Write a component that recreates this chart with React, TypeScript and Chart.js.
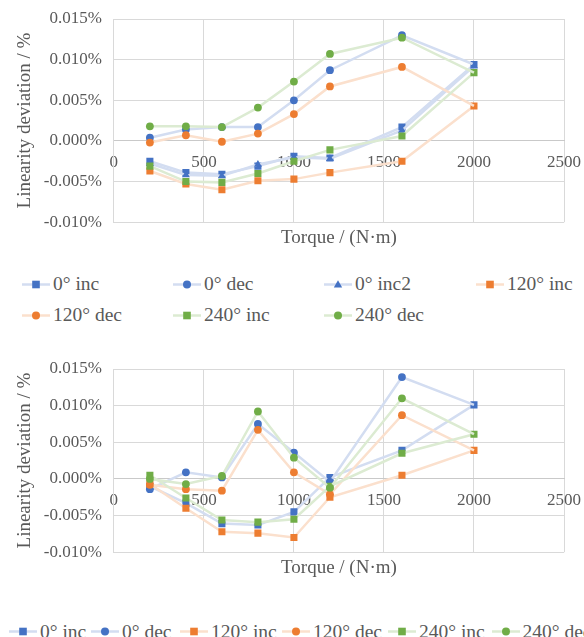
import React, { useEffect, useRef } from "react";
import { Chart, registerables } from "chart.js";

Chart.register(...registerables);

// ---------- data ----------
const torque = [200, 400, 600, 800, 1000, 1200, 1600, 2000];

// top chart (values in %)
const top0Inc = [-0.0025, -0.0039, -0.0041, -0.0031, -0.0019, -0.0021, 0.0017, 0.0094];
const top0Dec = [0.0004, 0.0014, 0.0017, 0.0017, 0.005, 0.0087, 0.013, 0.0094];
const top0Inc2 = [-0.0028, -0.0042, -0.0043, -0.0029, -0.002, -0.0022, 0.0013, 0.0092];
const top120Inc = [-0.0037, -0.0053, -0.006, -0.0049, -0.0047, -0.0039, -0.0025, 0.0043];
const top120Dec = [-0.0002, 0.0007, -0.0001, 0.0009, 0.0033, 0.0067, 0.0091, 0.0043];
const top240Inc = [-0.0031, -0.005, -0.0051, -0.004, -0.0025, -0.0011, 0.0006, 0.0084];
const top240Dec = [0.0018, 0.0018, 0.0017, 0.0041, 0.0073, 0.0107, 0.0127, 0.0084];

// bottom chart (values in %)
const bot0Inc = [-0.001, -0.0033, -0.0061, -0.0063, -0.0045, 0.0002, 0.0039, 0.0101];
const bot0Dec = [-0.0014, 0.0009, 0.0002, 0.0075, 0.0036, -0.0004, 0.0139, 0.0101];
const bot120Inc = [-0.0007, -0.004, -0.0072, -0.0074, -0.008, -0.0025, 0.0005, 0.0039];
const bot120Dec = [-0.0008, -0.0014, -0.0016, 0.0067, 0.0009, -0.0021, 0.0087, 0.0039];
const bot240Inc = [0.0005, -0.0026, -0.0056, -0.0059, -0.0055, -0.001, 0.0035, 0.0061];
const bot240Dec = [0.0, -0.0007, 0.0004, 0.0092, 0.0029, -0.0012, 0.011, 0.0061];

const xMin = 0;
const xMax = 2500;
const xStep = 500;
const yMin = -0.01;
const yMax = 0.015;
const yStep = 0.005;

const xTitle = "Torque / (N·m)";
const yTitle = "Linearity deviation / %";

// ---------- styles ----------
const FONT = "'Liberation Serif', 'Times New Roman', serif";
const TEXT = "#595959";
const GRID = "#d9d9d9";

Chart.defaults.font.family = FONT;
Chart.defaults.color = TEXT;

const BLUE = "#4472C4";
const ORANGE = "#ED7D31";
const GREEN = "#70AD47";
const BLUE_L = "#d3ddf1";
const ORANGE_L = "#fbe0cd";
const GREEN_L = "#dcebd2";

type PStyle = "rect" | "circle" | "triangle";
type Series = {
  label: string;
  data: number[];
  color: string;
  light: string;
  style: PStyle;
  dec: boolean;
};

const topSeries: Series[] = [
  { label: "0° inc", data: top0Inc, color: BLUE, light: BLUE_L, style: "rect", dec: false },
  { label: "0° dec", data: top0Dec, color: BLUE, light: BLUE_L, style: "circle", dec: true },
  { label: "0° inc2", data: top0Inc2, color: BLUE, light: BLUE_L, style: "triangle", dec: false },
  { label: "120° inc", data: top120Inc, color: ORANGE, light: ORANGE_L, style: "rect", dec: false },
  { label: "120° dec", data: top120Dec, color: ORANGE, light: ORANGE_L, style: "circle", dec: true },
  { label: "240° inc", data: top240Inc, color: GREEN, light: GREEN_L, style: "rect", dec: false },
  { label: "240° dec", data: top240Dec, color: GREEN, light: GREEN_L, style: "circle", dec: true },
];

const botSeries: Series[] = [
  { label: "0° inc", data: bot0Inc, color: BLUE, light: BLUE_L, style: "rect", dec: false },
  { label: "0° dec", data: bot0Dec, color: BLUE, light: BLUE_L, style: "circle", dec: true },
  { label: "120° inc", data: bot120Inc, color: ORANGE, light: ORANGE_L, style: "rect", dec: false },
  { label: "120° dec", data: bot120Dec, color: ORANGE, light: ORANGE_L, style: "circle", dec: true },
  { label: "240° inc", data: bot240Inc, color: GREEN, light: GREEN_L, style: "rect", dec: false },
  { label: "240° dec", data: bot240Dec, color: GREEN, light: GREEN_L, style: "circle", dec: true },
];

// legend layout (positions of items, not data)
const topLegendCols = [22, 173, 324, 476];
const topLegendRows = [284, 315];
const botLegendCols = [9, 91, 180, 282, 388, 491.5];
const botLegendRow = 631.5;

function radiusFor(style: PStyle) {
  if (style === "rect") return 5;
  if (style === "triangle") return 4.6;
  return 3.9;
}

function buildDatasets(series: Series[]) {
  return series.map((s, idx) => {
    const r = radiusFor(s.style);
    return {
      label: s.label,
      data: torque.map((x, i) => ({ x, y: s.data[i] })),
      borderColor: s.light,
      backgroundColor: s.color,
      pointBackgroundColor: s.color,
      pointBorderColor: s.color,
      pointBorderWidth: 0,
      pointStyle: s.style,
      pointRadius: s.dec ? s.data.map((_, i) => (i === s.data.length - 1 ? 0 : r)) : r,
      borderWidth: 2.5,
      tension: 0,
      fill: false,
      order: -idx,
      xAxisID: "x",
      yAxisID: "y",
    };
  });
}

function buildOptions(): any {
  return {
    responsive: false,
    animation: false,
    devicePixelRatio: 1,
    layout: { padding: { top: 19, left: 10, right: 17, bottom: 0 } },
    plugins: { legend: { display: false }, tooltip: { enabled: false } },
    scales: {
      x: {
        type: "linear",
        position: { y: 0 },
        min: xMin,
        max: xMax,
        ticks: {
          stepSize: xStep,
          color: TEXT,
          font: { family: FONT, size: 17 },
          padding: 3,
          maxRotation: 0,
          autoSkip: false,
          callback: (v: number) => String(v),
        },
        grid: { color: GRID, lineWidth: 1, tickLength: 8, tickColor: "rgba(0,0,0,0)" },
        border: { color: "#c9c9c9", width: 1 },
      },
      x2: {
        type: "linear",
        position: "bottom",
        axis: "x",
        min: xMin,
        max: xMax,
        ticks: { display: false },
        grid: { display: false, drawTicks: false },
        border: { display: false },
        title: {
          display: true,
          text: xTitle,
          color: TEXT,
          font: { family: FONT, size: 19 },
          padding: { top: 4, bottom: 4 },
        },
      },
      y: {
        type: "linear",
        position: "left",
        min: yMin,
        max: yMax,
        ticks: {
          stepSize: yStep,
          color: TEXT,
          font: { family: FONT, size: 17 },
          padding: 3,
          callback: (v: number) => Number(v).toFixed(3) + "%",
        },
        grid: { color: GRID, lineWidth: 1, tickLength: 9, tickColor: "rgba(0,0,0,0)" },
        border: { color: GRID, width: 1 },
        title: {
          display: true,
          text: yTitle,
          color: TEXT,
          font: { family: FONT, size: 19 },
          padding: { top: 4, bottom: 4 },
        },
      },
    },
  };
}

function LineChart({ series, top, height }: { series: Series[]; top: number; height: number }) {
  const ref = useRef<HTMLCanvasElement>(null);
  useEffect(() => {
    const chart = new Chart(ref.current as HTMLCanvasElement, {
      type: "line",
      data: { datasets: buildDatasets(series) as any },
      options: buildOptions(),
    });
    return () => chart.destroy();
  }, []);
  return (
    <canvas
      ref={ref}
      width={584}
      height={height}
      style={{ position: "absolute", left: 0, top, width: 584, height }}
    />
  );
}

function Marker({ s }: { s: Series }) {
  let shape: React.ReactNode;
  if (s.style === "rect") shape = <rect x={10.2} y={2.7} width={7.6} height={7.6} fill={s.color} />;
  else if (s.style === "circle") shape = <circle cx={14} cy={6.5} r={4} fill={s.color} />;
  else shape = <polygon points="14,2.2 18.2,9.6 9.8,9.6" fill={s.color} />;
  return (
    <svg width={28} height={13} style={{ display: "block", flex: "none" }}>
      <line x1={0} y1={6.5} x2={28} y2={6.5} stroke={s.light} strokeWidth={2.5} />
      {shape}
    </svg>
  );
}

function LegendItem({ s, left, cy }: { s: Series; left: number; cy: number }) {
  return (
    <div
      style={{
        position: "absolute",
        left,
        top: cy - 11,
        display: "flex",
        alignItems: "center",
        whiteSpace: "nowrap",
        fontFamily: FONT,
        fontSize: 19.5,
        color: TEXT,
        lineHeight: "22px",
        height: 22,
      }}
    >
      <Marker s={s} />
      <span style={{ marginLeft: 3 }}>{s.label}</span>
    </div>
  );
}

export default function App() {
  return (
    <div
      style={{
        position: "absolute",
        left: 0,
        top: 0,
        width: 584,
        height: 637,
        overflow: "hidden",
        background: "#ffffff",
      }}
    >
      <LineChart series={topSeries} top={0} height={253} />
      {topSeries.map((s, i) => (
        <LegendItem
          key={s.label}
          s={s}
          left={topLegendCols[i % 4]}
          cy={topLegendRows[Math.floor(i / 4)]}
        />
      ))}
      <LineChart series={botSeries} top={350} height={233} />
      {botSeries.map((s, i) => (
        <LegendItem key={s.label} s={s} left={botLegendCols[i]} cy={botLegendRow} />
      ))}
    </div>
  );
}
